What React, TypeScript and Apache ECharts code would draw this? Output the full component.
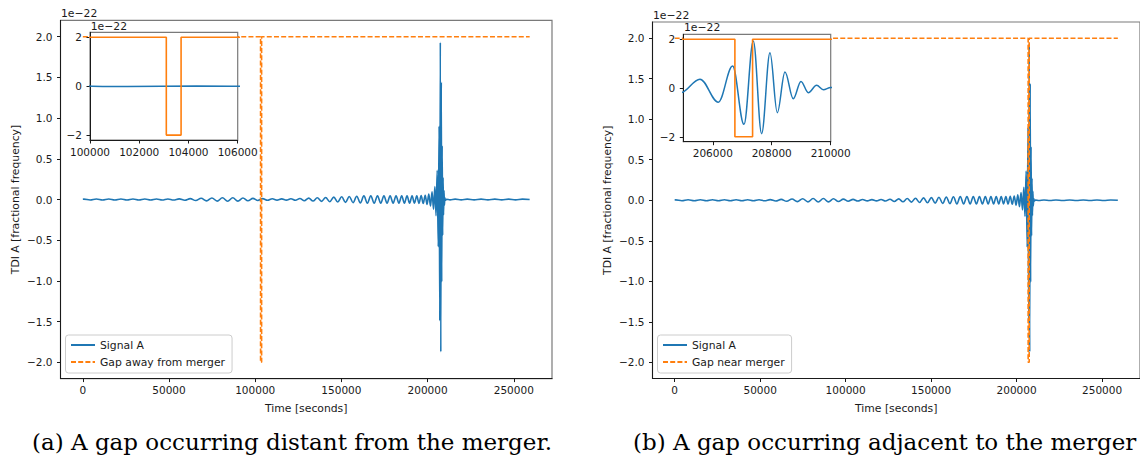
import { useEffect, useRef } from "react";
import * as echarts from "echarts";

// ---- data (signal in units of 1e-22 fractional frequency) ----
const signalTime = [
  0, 585, 4235, 7860, 11460, 15035, 18585, 22110, 25610, 29080, 32525, 35945, 39335, 42700, 46040,
  49350, 52635, 55890, 59120, 62320, 65495, 68645, 71765, 74860, 77930, 80970, 83985, 86975, 89935,
  92870, 95775, 98655, 101510, 104335, 107135, 109905, 112650, 115365, 118050, 120705, 123335,
  125935, 128500, 131035, 133540, 136010, 138450, 140860, 143235, 145575, 147880, 150150, 152385,
  154585, 156750, 158880, 160975, 163035, 165060, 167050, 169005, 170925, 172810, 174660, 176475,
  178255, 179995, 181695, 183355, 184970, 186540, 188070, 189550, 190985, 192375, 193720, 195010,
  196260, 197455, 198600, 199690, 200700, 201665, 202585, 203440, 204230, 204900, 205565, 206187,
  206673, 207058, 207375, 207657, 207940, 208189, 208449, 208731, 208992, 209240, 209523, 209750,
  210000, 210300, 211000, 213000, 216000, 219500, 223000, 227000, 231000, 235000, 239000, 243000,
  247000, 251000, 255000, 259200,
];
const signalA = [
  0.004, 0.005, -0.006, 0.006, -0.006, 0.006, -0.006, 0.006, -0.006, 0.006, -0.006, 0.006, -0.006, 0.006, -0.006,
  0.007, -0.007, 0.008, -0.009, 0.011, -0.013, 0.015, -0.017, 0.019, -0.02, 0.021, -0.021, 0.021, -0.02,
  0.018, -0.016, 0.014, -0.012, 0.011, -0.01, 0.009, -0.008, 0.008, -0.008, 0.009, -0.01,
  0.012, -0.015, 0.017, -0.019, 0.021, -0.023, 0.025, -0.027, 0.029, -0.031, 0.033, -0.035,
  0.037, -0.039, 0.04, -0.042, 0.044, -0.045, 0.045, -0.045, 0.045, -0.045, 0.045, -0.045,
  0.045, -0.045, 0.045, -0.045, 0.045, -0.045, 0.045, -0.045, 0.045, -0.045, 0.046, -0.047,
  0.048, -0.05, 0.053, -0.06, 0.068, -0.08, 0.095, -0.12, 0.16, -0.2, 0.36, -0.58,
  0.9, -1.49, 1.93, -1.87, 1.44, -1.01, 0.66, -0.44, 0.27, -0.19, 0.11, -0.07,
  0.02, -0.01, 0.003, -0.004, 0.004, -0.004, 0.004, -0.004, 0.004, -0.004, 0.004, -0.004,
  0.004, -0.004, 0.004, 0,
];
const gapAwayTime = [0, 103100, 103100, 103700, 103700, 259200];
const gapAwayValue = [2, 2, -2, -2, 2, 2];
const gapNearTime = [0, 206750, 206750, 207350, 207350, 259200];
const gapNearValue = [2, 2, -2, -2, 2, 2];

const mainXTicks = [0, 50000, 100000, 150000, 200000, 250000];
const mainYTicks = [-2, -1.5, -1, -0.5, 0, 0.5, 1, 1.5, 2];
const insetYTicks = [-2, 0, 2];
const insetAXTicks = [100000, 102000, 104000, 106000];
const insetBXTicks = [206000, 208000, 210000];

const BLUE = "#1f77b4";
const ORANGE = "#ff7f0e";
const INK = "#1a1a1a";
const FONT = "DejaVu Sans";

const pairs = (xs: number[], ys: number[]) => xs.map((x, i) => [x, ys[i]]);
const minus = (s: string) => s.replace("-", "\u2212");

export default function App() {
  const ref = useRef<HTMLDivElement>(null);

  useEffect(() => {
    const chart = echarts.init(ref.current!, null, { renderer: "svg" });
    const sig = pairs(signalTime, signalA);
    const gapAway = pairs(gapAwayTime, gapAwayValue);
    const gapNear = pairs(gapNearTime, gapNearValue);

    const gridBase = { show: true, backgroundColor: "#ffffff", borderColor: "#7a7a7a", borderWidth: 1.2, containLabel: false };
    const grids = [
      { ...gridBase, left: 60.5, top: 20.4, width: 491.5, height: 358.2, z: 0 },
      { ...gridBase, left: 90, top: 32.3, width: 147.7, height: 107.7, z: 10 },
      { ...gridBase, left: 652.5, top: 22, width: 492, height: 356.5, z: 0 },
      { ...gridBase, left: 683.3, top: 34.3, width: 147.4, height: 107.4, z: 10 },
    ];

    const xAxis = (gridIndex: number, min: number, max: number, ticks: number[], named: boolean, z: number) => ({
      type: "value",
      gridIndex,
      min,
      max,
      z,
      axisLine: { show: true, onZero: false, lineStyle: { color: INK, width: 1 } },
      axisTick: { show: true, length: 3.5, customValues: ticks, lineStyle: { color: INK, width: 1 } },
      axisLabel: {
        show: true,
        customValues: ticks,
        margin: 6,
        fontSize: 10.5,
        color: INK,
        fontFamily: FONT,
        formatter: (v: number) => String(v),
      },
      splitLine: { show: false },
      name: named ? "Time [seconds]" : "",
      nameLocation: "middle",
      nameGap: 24,
      nameTextStyle: { fontSize: 10.8, color: INK, fontFamily: FONT },
    });

    const yAxis = (gridIndex: number, ticks: number[], main: boolean, z: number) => ({
      type: "value",
      gridIndex,
      min: -2.2,
      max: 2.2,
      z,
      axisLine: { show: true, onZero: false, lineStyle: { color: INK, width: 1 } },
      axisTick: { show: true, length: 3.5, customValues: ticks, lineStyle: { color: INK, width: 1 } },
      axisLabel: {
        show: true,
        customValues: ticks,
        margin: 8,
        fontSize: 10.5,
        color: INK,
        fontFamily: FONT,
        formatter: (v: number) => minus(main ? v.toFixed(1) : String(v)),
      },
      splitLine: { show: false },
      name: main ? "TDI A [fractional frequency]" : "",
      nameLocation: "middle",
      nameGap: 39.5,
      nameTextStyle: { fontSize: 10.8, color: INK, fontFamily: FONT },
    });

    const sigSeries = (axis: number, name: string | undefined, z: number, width: number) => ({
      type: "line",
      name,
      xAxisIndex: axis,
      yAxisIndex: axis,
      data: sig,
      symbol: "none",
      showSymbol: false,
      smooth: 0.36,
      smoothMonotone: "x",
      lineStyle: { color: BLUE, width },
      itemStyle: { color: BLUE },
      z,
      silent: true,
    });
    const gapSeries = (axis: number, name: string | undefined, data: number[][], dashed: boolean, z: number) => ({
      type: "line",
      name,
      xAxisIndex: axis,
      yAxisIndex: axis,
      data,
      symbol: "none",
      showSymbol: false,
      lineStyle: { color: ORANGE, width: 1.6, type: dashed ? [5, 2.2] : "solid" },
      itemStyle: { color: ORANGE },
      z,
      silent: true,
    });

    const legendBase = {
      orient: "vertical",
      top: 335,
      itemWidth: 24,
      itemHeight: 12,
      itemGap: 5,
      padding: [4, 7, 5, 4.5],
      backgroundColor: "rgba(255,255,255,0.8)",
      borderColor: "#cccccc",
      borderWidth: 1,
      borderRadius: 3,
      selectedMode: false,
      itemStyle: { opacity: 0 },
      textStyle: { fontSize: 10.8, color: INK, fontFamily: FONT, lineHeight: 12 },
    };

    const txt = (x: number, y: number, text: string, extra: any = {}) => ({
      type: "text",
      x,
      y,
      z: 50,
      style: { text, fontSize: 10.8, fontFamily: FONT, fill: INK, align: "left", verticalAlign: "middle", ...extra },
    });

    chart.setOption({
      animation: false,
      textStyle: { fontFamily: FONT },
      grid: grids,
      xAxis: [
        xAxis(0, -12960, 272160, mainXTicks, true, 1),
        xAxis(1, 100000, 106000, insetAXTicks, false, 11),
        xAxis(2, -12960, 272160, mainXTicks, true, 1),
        xAxis(3, 205000, 210000, insetBXTicks, false, 11),
      ],
      yAxis: [
        yAxis(0, mainYTicks, true, 1),
        yAxis(1, insetYTicks, false, 11),
        yAxis(2, mainYTicks, true, 1),
        yAxis(3, insetYTicks, false, 11),
      ],
      legend: [
        { ...legendBase, left: 65.5, data: ["Signal A", "Gap away from merger"] },
        { ...legendBase, left: 657.5, data: ["Signal A", "Gap near merger"] },
      ],
      series: [
        sigSeries(0, "Signal A", 2, 1.6),
        gapSeries(0, "Gap away from merger", gapAway, true, 3),
        sigSeries(1, undefined, 12, 1.5),
        gapSeries(1, undefined, gapAway, false, 13),
        sigSeries(2, "Signal A", 2, 1.6),
        gapSeries(2, "Gap near merger", gapNear, true, 3),
        sigSeries(3, undefined, 12, 1.5),
        gapSeries(3, undefined, gapNear, false, 13),
      ],
      graphic: [
        txt(61, 13.3, "1e\u221222"),
        txt(90.7, 26, "1e\u221222"),
        txt(653, 15, "1e\u221222"),
        txt(684, 27.3, "1e\u221222"),
        txt(32, 442, "(a) A gap occurring distant from the merger.", { fontSize: 23, fontFamily: "DejaVu Serif", fill: "#000" }),
        txt(633, 442, "(b) A gap occurring adjacent to the merger", { fontSize: 23, fontFamily: "DejaVu Serif", fill: "#000" }),
      ],
    });

    return () => chart.dispose();
  }, []);

  return <div ref={ref} style={{ position: "absolute", left: 0, top: 0, width: 1140, height: 456 }} />;
}
